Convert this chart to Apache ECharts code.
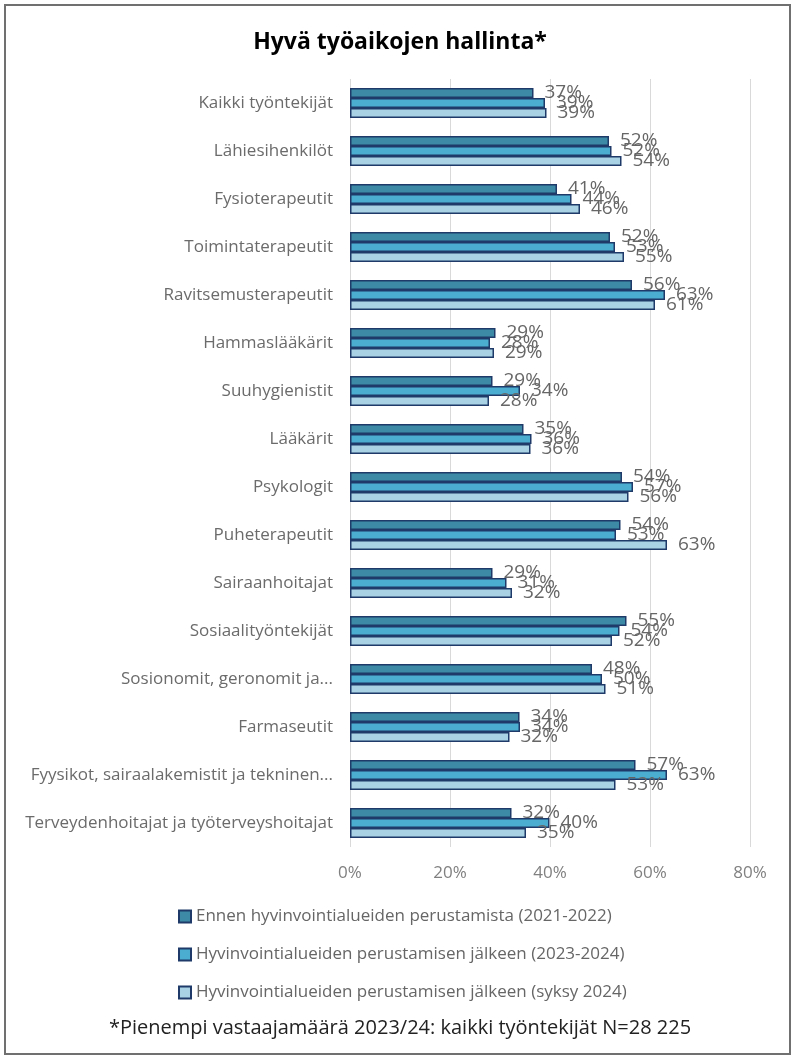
<!DOCTYPE html>
<html>
<head>
<meta charset="utf-8">
<script src="https://cdn.jsdelivr.net/npm/echarts@6/dist/echarts.min.js"></script>
<style>
html,body{margin:0;padding:0;background:#fff;}
#chart{width:800px;height:1064px;}
</style>
</head>
<body>
<div id="chart"></div>
<script>
const titleText = 'Hyvä työaikojen hallinta*';
const footnoteText = '*Pienempi vastaajamäärä 2023/24: kaikki työntekijät N=28 225';
const categories = [
  'Kaikki työntekijät',
  'Lähiesihenkilöt',
  'Fysioterapeutit',
  'Toimintaterapeutit',
  'Ravitsemusterapeutit',
  'Hammaslääkärit',
  'Suuhygienistit',
  'Lääkärit',
  'Psykologit',
  'Puheterapeutit',
  'Sairaanhoitajat',
  'Sosiaalityöntekijät',
  'Sosionomit, geronomit ja...',
  'Farmaseutit',
  'Fyysikot, sairaalakemistit ja tekninen...',
  'Terveydenhoitajat ja työterveyshoitajat'
];
const seriesNames = [
  'Ennen hyvinvointialueiden perustamista (2021-2022)',
  'Hyvinvointialueiden perustamisen jälkeen (2023-2024)',
  'Hyvinvointialueiden perustamisen jälkeen (syksy 2024)'
];
const before2122 = [36.7, 51.8, 41.4, 52.0, 56.4, 29.1, 28.5, 34.7, 54.4, 54.1, 28.5, 55.3, 48.4, 33.9, 57.1, 32.3];
const after2324  = [39.0, 52.3, 44.3, 53.0, 63.0, 28.0, 34.0, 36.3, 56.6, 53.2, 31.3, 53.9, 50.4, 34.0, 63.4, 39.9];
const autumn24   = [39.3, 54.3, 46.0, 54.8, 61.0, 28.8, 27.8, 36.1, 55.7, 63.4, 32.4, 52.4, 51.1, 31.9, 53.1, 35.2];
const xTicks = [0, 20, 40, 60, 80];

const colors = ['#3d8aa6', '#4badcf', '#a9d2e4'];
const borderCol = '#1f3a68';
const dataSets = [before2122, after2324, autumn24];

const chart = echarts.init(document.getElementById('chart'), null, {renderer: 'canvas'});
const option = {
  animation: false,
  backgroundColor: '#fff',
  title: {
    text: titleText,
    left: 'center',
    top: 26,
    textStyle: {fontFamily: 'Open Sans', fontWeight: 'bold', fontSize: 23, color: '#000'}
  },
  legend: {
    orient: 'vertical',
    left: 173,
    top: 903,
    itemWidth: 12,
    itemHeight: 12,
    itemGap: 21,
    icon: 'rect',
    textStyle: {fontFamily: 'Open Sans', fontSize: 17, color: '#666'},
    data: seriesNames
  },
  grid: {left: 350, right: 50, top: 79, height: 768, containLabel: false},
  xAxis: {
    type: 'value',
    min: xTicks[0],
    max: xTicks[xTicks.length - 1],
    interval: xTicks[1] - xTicks[0],
    axisLine: {show: false},
    axisTick: {show: false},
    splitLine: {show: true, lineStyle: {color: '#d9d9d9', width: 1}},
    axisLabel: {formatter: v => v + '%', margin: 18, fontFamily: 'Open Sans', fontSize: 17, color: '#808080'}
  },
  yAxis: {
    type: 'category',
    inverse: true,
    data: categories,
    axisLine: {show: false},
    axisTick: {show: false},
    axisLabel: {margin: 17, fontFamily: 'Open Sans', fontSize: 17, color: '#6b6b6b'}
  },
  graphic: [
    {type: 'rect', shape: {x: 5, y: 5, width: 785, height: 1049}, style: {fill: 'none', stroke: '#707070', lineWidth: 2}, z: 100},
    {type: 'text', left: 'center', top: 1018, style: {text: footnoteText, font: '20px "Open Sans"', fill: '#222'}}
  ],
  series: dataSets.map((d, i) => ({
    type: 'bar',
    name: seriesNames[i],
    data: d,
    barWidth: 10,
    barGap: '0%',
    itemStyle: {color: colors[i], borderColor: borderCol, borderWidth: 1.5},
    label: {
      show: true,
      position: 'right',
      distance: 11,
      formatter: p => Math.round(p.value) + '%',
      fontFamily: 'Open Sans',
      fontSize: 19,
      color: '#666'
    }
  }))
};
chart.setOption(option);
</script>
</body>
</html>
